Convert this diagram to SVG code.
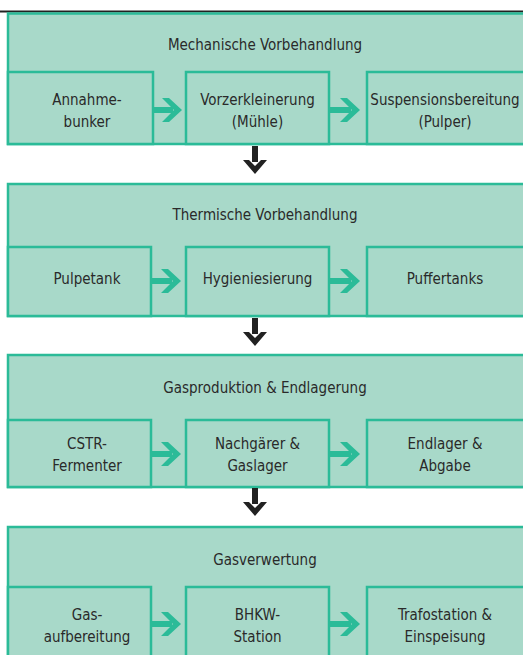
<svg xmlns="http://www.w3.org/2000/svg" width="523" height="655" viewBox="0 0 523 655">
<defs>
<style>
.stage{fill:#a8d9c9;stroke:#2bbb98;stroke-width:2.5}
.box{fill:#a8d9c9;stroke:#2bbb98;stroke-width:2.5}
.t{font-family:"DejaVu Sans Condensed","DejaVu Sans",sans-serif;font-stretch:condensed;font-size:15px;fill:#2a2a2a;text-anchor:middle}
.ha{fill:#2bbb98}
.va{fill:#222}
</style>
<path id="harrow" d="M0,-3 H21 V3 H0 Z M10,-12 H17 L30,0 L17,12 H10 L22,0 Z"/>
<path id="varrow" d="M-3,0 H3 V16 H-3 Z M-12,14 H-6 L0,20 L6,14 H12 L0,28 Z"/>
</defs>
<rect width="523" height="655" fill="#fff"/>
<line x1="0" y1="11.5" x2="523" y2="11.5" stroke="#222" stroke-width="2"/>

<g id="stage1">
<rect class="stage" x="8" y="13.5" width="530" height="130.5"/>
<text class="t" x="265" y="50">Mechanische Vorbehandlung</text>
<g id="s1n1"><rect class="box" x="8" y="72" width="145" height="72"/><text class="t" x="87" y="105">Annahme-</text><text class="t" x="87" y="127">bunker</text></g>
<g id="s1n2"><rect class="box" x="186" y="72" width="143" height="72"/><text class="t" x="257.5" y="105">Vorzerkleinerung</text><text class="t" x="257.5" y="127">(Mühle)</text></g>
<g id="s1n3"><rect class="box" x="367" y="72" width="170" height="72"/><text class="t" x="445" y="105">Suspensionsbereitung</text><text class="t" x="445" y="127">(Pulper)</text></g>
</g>

<g id="stage2">
<rect class="stage" x="8" y="184" width="530" height="132"/>
<text class="t" x="265" y="220">Thermische Vorbehandlung</text>
<g id="s2n1"><rect class="box" x="8" y="247" width="143" height="69"/><text class="t" x="87" y="284">Pulpetank</text></g>
<g id="s2n2"><rect class="box" x="186" y="247" width="143" height="69"/><text class="t" x="257.5" y="284">Hygieniesierung</text></g>
<g id="s2n3"><rect class="box" x="367" y="247" width="170" height="69"/><text class="t" x="445" y="284">Puffertanks</text></g>
</g>

<g id="stage3">
<rect class="stage" x="8" y="355" width="530" height="132"/>
<text class="t" x="265" y="393">Gasproduktion &amp; Endlagerung</text>
<g id="s3n1"><rect class="box" x="8" y="420" width="143" height="67"/><text class="t" x="87" y="449">CSTR-</text><text class="t" x="87" y="471">Fermenter</text></g>
<g id="s3n2"><rect class="box" x="186" y="420" width="143" height="67"/><text class="t" x="257.5" y="449">Nachgärer &amp;</text><text class="t" x="257.5" y="471">Gaslager</text></g>
<g id="s3n3"><rect class="box" x="367" y="420" width="170" height="67"/><text class="t" x="445" y="449">Endlager &amp;</text><text class="t" x="445" y="471">Abgabe</text></g>
</g>

<g id="stage4">
<rect class="stage" x="8" y="527" width="530" height="140"/>
<text class="t" x="265" y="565">Gasverwertung</text>
<g id="s4n1"><rect class="box" x="8" y="587" width="143" height="80"/><text class="t" x="87" y="620">Gas-</text><text class="t" x="87" y="642">aufbereitung</text></g>
<g id="s4n2"><rect class="box" x="186" y="587" width="143" height="80"/><text class="t" x="257.5" y="620">BHKW-</text><text class="t" x="257.5" y="642">Station</text></g>
<g id="s4n3"><rect class="box" x="367" y="587" width="170" height="80"/><text class="t" x="445" y="620">Trafostation &amp;</text><text class="t" x="445" y="642">Einspeisung</text></g>
</g>

<g id="connectors">
<use href="#harrow" class="ha" x="152" y="110"/>
<use href="#harrow" class="ha" x="330" y="110"/>
<use href="#harrow" class="ha" x="151" y="281"/>
<use href="#harrow" class="ha" x="330" y="281"/>
<use href="#harrow" class="ha" x="151" y="454"/>
<use href="#harrow" class="ha" x="330" y="454"/>
<use href="#harrow" class="ha" x="151" y="624"/>
<use href="#harrow" class="ha" x="330" y="624"/>
<use href="#varrow" class="va" x="255" y="146"/>
<use href="#varrow" class="va" x="255" y="318"/>
<use href="#varrow" class="va" x="255" y="488"/>
</g>
</svg>
